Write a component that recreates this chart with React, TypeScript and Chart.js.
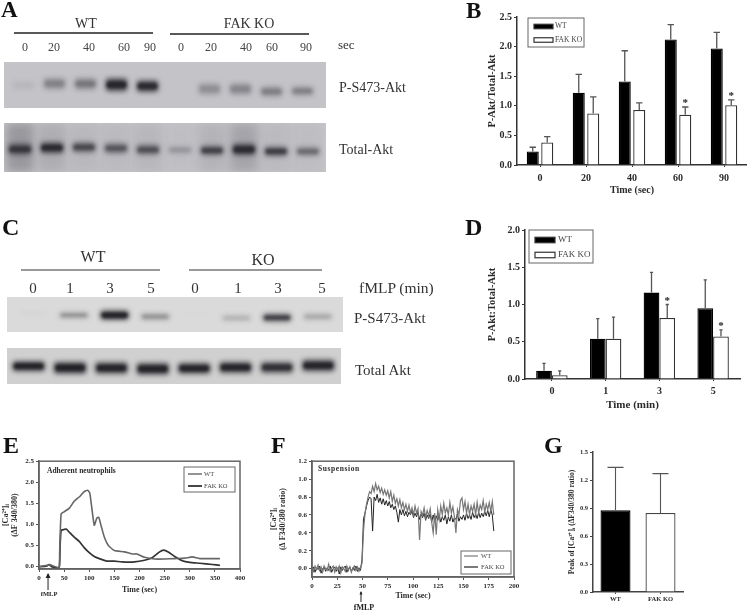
import React, { useEffect, useRef } from "react";
import { Chart, registerables } from "chart.js";

Chart.register(...registerables);

const SERIF = "'Liberation Serif', serif";

// ---------- Panel B ----------
const catB = ["0", "20", "40", "60", "90"];
const wtB = [0.23, 1.22, 1.41, 2.12, 1.97];
const wtBTop = [0.3, 1.53, 1.93, 2.37, 2.24];
const koB = [0.38, 0.87, 0.93, 0.85, 1.01];
const koBTop = [0.48, 1.15, 1.05, 0.98, 1.1];
const koBStar = [false, false, false, true, true];
const ticksB = [0, 0.5, 1, 1.5, 2, 2.5];

// ---------- Panel D ----------
const catD = ["0", "1", "3", "5"];
const wtD = [0.11, 0.54, 1.16, 0.95];
const wtDTop = [0.21, 0.81, 1.43, 1.33];
const koD = [0.05, 0.54, 0.82, 0.57];
const koDTop = [0.11, 0.83, 1.0, 0.66];
const koDStar = [false, false, true, true];
const ticksD = [0, 0.5, 1, 1.5, 2];

// ---------- Panel E ----------
const wtEx = [0, 10, 18, 22, 25, 40, 41, 44, 50, 60, 70, 80, 90, 97, 101, 105, 110, 115, 119, 124, 130, 138, 150, 170, 185, 195, 210, 230, 250, 270, 290, 305, 320, 360];
const wtEy = [0, 0.02, 0.03, 0.05, 0.03, -0.02, 0.3, 1.25, 1.3, 1.38, 1.55, 1.65, 1.78, 1.81, 1.75, 1.4, 0.98, 1.15, 1.17, 0.95, 0.7, 0.5, 0.38, 0.35, 0.3, 0.3, 0.22, 0.18, 0.18, 0.19, 0.2, 0.23, 0.19, 0.19];
const koEx = [0, 15, 20, 25, 40, 42, 44, 50, 54, 60, 70, 80, 90, 100, 110, 120, 135, 150, 165, 190, 210, 225, 240, 248, 258, 270, 285, 300, 320, 345, 360];
const koEy = [0, 0.01, 0.05, 0, -0.03, 0.5, 0.86, 0.88, 0.89, 0.82, 0.7, 0.6, 0.45, 0.33, 0.24, 0.19, 0.13, 0.13, 0.11, 0.11, 0.15, 0.21, 0.35, 0.39, 0.34, 0.24, 0.14, 0.1, 0.08, 0.05, 0.03];
const ticksEx = [0, 50, 100, 150, 200, 250, 300, 350, 400];
const ticksEy = [0, 0.5, 1, 1.5, 2, 2.5];

// ---------- Panel F (one reading every 1.5 s) ----------
const wtF = [
  0.01, -0.03, 0.03, -0.01, 0.04, -0.02, 0.02, -0.04, 0.03, 0,
  -0.02, 0.05, -0.03, 0.01, 0.03, -0.04, 0.02, -0.01, 0.03, -0.05,
  0.02, 0, -0.03, 0.03, -0.02, 0.02, -0.04, 0.01, 0.03, -0.02,
  0.02, -0.03, 0.01, 0.06, 0.42, 0.62, 0.72, 0.8, 0.86, 0.84,
  0.92, 0.86, 0.95, 0.88, 0.92, 0.85, 0.9, 0.83, 0.88, 0.82,
  0.87, 0.79, 0.86, 0.75, 0.82, 0.73, 0.78, 0.7, 0.77, 0.68,
  0.74, 0.66, 0.72, 0.64, 0.71, 0.62, 0.68, 0.6, 0.7, 0.62,
  0.67, 0.32, 0.64, 0.6, 0.68, 0.57, 0.65, 0.59, 0.67, 0.52,
  0.4, 0.62, 0.38, 0.66, 0.55, 0.7, 0.6, 0.73, 0.62, 0.68,
  0.6, 0.74, 0.62, 0.69, 0.58, 0.4, 0.66, 0.6, 0.76, 0.79,
  0.66, 0.75, 0.62, 0.72, 0.6, 0.7, 0.64, 0.72, 0.6, 0.74,
  0.62, 0.71, 0.66, 0.76, 0.63, 0.72, 0.66, 0.74, 0.64, 0.75,
  0.6,
];
const koF = [
  -0.02, 0.02, -0.04, 0.01, -0.01, 0.03, -0.05, 0, 0.02, -0.03,
  0.01, -0.02, 0.03, -0.04, 0, 0.02, -0.03, 0.01, -0.06, 0.02,
  -0.02, 0.01, 0.03, -0.04, 0, 0.02, -0.03, 0.01, -0.02, 0.03,
  -0.03, 0.01, -0.02, 0.1, 0.56, 0.62, 0.7, 0.76, 0.8, 0.78,
  0.42, 0.8, 0.76, 0.83, 0.74, 0.79, 0.72, 0.78, 0.71, 0.76,
  0.7, 0.75, 0.68, 0.72, 0.66, 0.7, 0.63, 0.52, 0.66, 0.6,
  0.66, 0.59, 0.64, 0.58, 0.63, 0.6, 0.65, 0.57, 0.62, 0.58,
  0.63, 0.55, 0.61, 0.57, 0.62, 0.54, 0.6, 0.56, 0.61, 0.52,
  0.6, 0.53, 0.59, 0.54, 0.6, 0.52, 0.58, 0.54, 0.6, 0.5,
  0.58, 0.53, 0.6, 0.52, 0.57, 0.55, 0.61, 0.53, 0.58, 0.55,
  0.6, 0.54, 0.62, 0.56, 0.6, 0.55, 0.63, 0.57, 0.61, 0.56,
  0.63, 0.57, 0.62, 0.58, 0.64, 0.59, 0.65, 0.58, 0.66, 0.6,
  0.42,
];
const ticksFx = [0, 25, 50, 75, 100, 125, 150, 175, 200];
const ticksFy = [0, 0.2, 0.4, 0.6, 0.8, 1, 1.2];

// ---------- Panel G ----------
const catG = ["WT", "FAK KO"];
const peakG = [0.875, 0.846];
const peakGTop = [1.335, 1.268];
const ticksG = [0, 0.3, 0.6, 0.9, 1.2, 1.5];

// ---------- Blots: band limits (percent of panel height) and strength ----------
const lanesA = ["WT 0", "WT 20", "WT 40", "WT 60", "WT 90", "KO 0", "KO 20", "KO 40", "KO 60", "KO 90"];
const lanesC = ["WT 0", "WT 1", "WT 3", "WT 5", "KO 0", "KO 1", "KO 3", "KO 5"];
const a1Top = [42, 35, 35, 35, 39, 50, 46, 46, 53, 53];
const a1Bot = [59, 59, 60, 64, 66, 52, 71, 71, 75, 73];
const a1Str = [0.1, 0.4, 0.46, 0.95, 0.9, 0, 0.33, 0.38, 0.42, 0.42];
const a2Top = [42, 39, 39, 41, 44, 48, 46, 42, 48, 49];
const a2Bot = [65, 62, 60, 62, 65, 62, 66, 66, 68, 67];
const a2Str = [0.8, 0.92, 0.7, 0.62, 0.66, 0.3, 0.74, 0.9, 0.78, 0.52];
const a2Smear = [0.28, 0.14, 0.07, 0.06, 0.08, 0.03, 0.1, 0.2, 0.06, 0.04];
const c1Top = [42, 44, 38, 47, 45, 52, 47, 47];
const c1Bot = [52, 60, 66, 65, 49, 68, 71, 65];
const c1Str = [0.04, 0.45, 1, 0.42, 0.02, 0.25, 0.8, 0.3];
const c2Top = [36, 38, 39, 41, 41, 38, 38, 32];
const c2Bot = [65, 72, 72, 75, 72, 70, 70, 65];
const c2Str = [1, 1, 0.97, 0.97, 0.97, 0.97, 0.88, 0.97];

const GREY = "#555";
const TXT = "#2a2a2a";

const afterFitW = (w: number) => (s: any) => { s.width = w; };
const afterFitH = (h: number) => (s: any) => { s.height = h; };
const setTicks = (arr: number[]) => (s: any) => { s.ticks = arr.map((value) => ({ value })); };

const panelPlugin = {
  id: "panelExtras",
  afterDatasetsDraw(chart: any) {
    const o = chart.options.plugins.panelExtras || {};
    const ctx = chart.ctx;
    const a = chart.chartArea;
    const yS = chart.scales.y;
    const xS = chart.scales.x;
    ctx.save();
    chart.data.datasets.forEach((ds: any, di: number) => {
      if (!ds.errTop) return;
      const meta = chart.getDatasetMeta(di);
      ds.errTop.forEach((top: number, i: number) => {
        const bar = meta.data[i];
        const yT = yS.getPixelForValue(top);
        ctx.strokeStyle = GREY;
        ctx.lineWidth = o.errW || 1.3;
        ctx.beginPath();
        ctx.moveTo(bar.x, bar.y);
        ctx.lineTo(bar.x, yT);
        ctx.moveTo(bar.x - o.cap, yT);
        ctx.lineTo(bar.x + o.cap, yT);
        ctx.stroke();
        if (ds.star && ds.star[i]) {
          ctx.fillStyle = "#222";
          ctx.font = `bold 11px ${SERIF}`;
          ctx.textAlign = "center";
          ctx.textBaseline = "alphabetic";
          ctx.fillText("*", bar.x, yT - 1);
        }
      });
    });
    if (o.frame) {
      ctx.strokeStyle = "#666";
      ctx.lineWidth = 1.5;
      ctx.strokeRect(a.left, a.top, a.right - a.left, a.bottom - a.top);
    }
    if (o.title) {
      ctx.fillStyle = TXT;
      ctx.font = `bold ${o.title.size}px ${SERIF}`;
      ctx.textAlign = "left";
      ctx.textBaseline = "middle";
      (ctx as any).letterSpacing = o.title.spacing || "0px";
      ctx.fillText(o.title.text, a.left + o.title.dx, a.top + o.title.dy);
      (ctx as any).letterSpacing = "0px";
    }
    if (o.arrow) {
      const ax = xS.getPixelForValue(o.arrow.at);
      ctx.strokeStyle = "#222";
      ctx.fillStyle = "#222";
      ctx.lineWidth = 1;
      const y0 = a.bottom + o.arrow.from;
      const y1 = a.bottom + o.arrow.to;
      ctx.beginPath();
      ctx.moveTo(ax, y1);
      ctx.lineTo(ax, y0);
      ctx.stroke();
      ctx.beginPath();
      ctx.moveTo(ax, y0 - 1);
      ctx.lineTo(ax - o.arrow.head, y0 + o.arrow.head * 1.6);
      ctx.lineTo(ax + o.arrow.head, y0 + o.arrow.head * 1.6);
      ctx.closePath();
      ctx.fill();
      ctx.font = `bold ${o.arrow.size}px ${SERIF}`;
      ctx.textAlign = "center";
      ctx.textBaseline = "alphabetic";
      ctx.fillText("fMLP", ax + o.arrow.labelDx, a.bottom + o.arrow.labelY);
    }
    if (o.legend) {
      const l = o.legend;
      ctx.strokeStyle = "#666";
      ctx.lineWidth = 1;
      ctx.strokeRect(l.x, l.y, l.w, l.h);
      chart.data.datasets.forEach((ds: any, i: number) => {
        const ry = l.y + l.rows[i];
        if (l.lines) {
          ctx.strokeStyle = ds.borderColor;
          ctx.lineWidth = l.lineW[i];
          ctx.beginPath();
          ctx.moveTo(l.x + l.sx, ry);
          ctx.lineTo(l.x + l.sx + l.sw, ry);
          ctx.stroke();
        } else {
          ctx.fillStyle = ds.backgroundColor;
          ctx.fillRect(l.x + l.sx, ry - l.sh / 2, l.sw, l.sh);
          ctx.strokeStyle = "#333";
          ctx.lineWidth = 1.2;
          ctx.strokeRect(l.x + l.sx, ry - l.sh / 2, l.sw, l.sh);
        }
        ctx.fillStyle = "#444";
        ctx.font = `${l.size}px ${SERIF}`;
        ctx.textAlign = "left";
        ctx.textBaseline = "middle";
        ctx.fillText(ds.label, l.x + l.tx, ry);
      });
    }
    ctx.restore();
  },
};

const blotPlugin = {
  id: "blot",
  beforeDraw(chart: any) {
    const o = chart.options.plugins.blot;
    const ctx = chart.ctx;
    ctx.save();
    ctx.fillStyle = o.bg;
    ctx.fillRect(0, 0, chart.width, chart.height);
    ctx.restore();
  },
  beforeDatasetDraw(chart: any, args: any) {
    const ds = chart.data.datasets[args.index];
    chart.ctx.save();
    chart.ctx.filter = `blur(${ds.blur}px)`;
  },
  afterDatasetDraw(chart: any) {
    chart.ctx.restore();
  },
};

const axisFont = (size: number) => ({ family: SERIF, size, weight: "bold" as const });

function scales(o: any) {
  const bc = o.axisColor || "#333";
  return {
    x: {
      type: o.xType,
      min: o.xMin,
      max: o.xMax,
      offset: o.xType === "category",
      afterFit: afterFitH(o.xH),
      afterBuildTicks: o.xTicks ? setTicks(o.xTicks) : undefined,
      border: { display: true, color: bc, width: o.bw || 1.5 },
      grid: { display: true, drawOnChartArea: false, drawTicks: true, tickLength: o.xTL ?? 3, offset: false, color: bc, lineWidth: 1 },
      ticks: { font: axisFont(o.tick), color: TXT, maxRotation: 0, autoSkip: false, padding: o.xPad ?? 2 },
      title: o.xTitle
        ? { display: true, text: o.xTitle, font: axisFont(o.titleSize), color: TXT, padding: { top: 0, bottom: o.xTitleB } }
        : { display: false },
    },
    y: {
      type: "linear",
      min: o.yMin,
      max: o.yMax,
      afterFit: afterFitW(o.yW),
      afterBuildTicks: setTicks(o.yTicks),
      border: { display: true, color: bc, width: o.bw || 1.5 },
      grid: { display: true, drawOnChartArea: false, drawTicks: true, tickLength: 3, color: bc, lineWidth: 1 },
      ticks: { font: axisFont(o.tick), color: TXT, padding: 2, callback: (v: any) => Number(v).toFixed(1) },
      title: {
        display: true,
        text: o.yTitle,
        font: axisFont(o.yTitleSize || o.titleSize),
        color: TXT,
        padding: 0,
      },
    },
  };
}

type Spec = { left: number; top: number; width: number; height: number; config: (padT: number) => any };

const barDs = (label: string, data: number[], fill: string, errTop: number[], star?: boolean[], extra?: any) => ({
  label,
  data,
  backgroundColor: fill,
  borderColor: fill === "#000" ? "#000" : "#333",
  borderWidth: 1.3,
  errTop,
  star,
  barPercentage: extra?.bar ?? 1,
  categoryPercentage: extra?.cat ?? 1,
});

const commonOpts = {
  responsive: false,
  animation: false,
  devicePixelRatio: 1,
};

const noLib = { legend: { display: false }, tooltip: { enabled: false } };

const specs: Spec[] = [
  // B
  {
    left: 486, top: 6, width: 261, height: 197,
    config: () => ({
      type: "bar",
      data: {
        labels: catB,
        datasets: [
          barDs("WT", wtB, "#000", wtBTop, undefined, { bar: 0.83, cat: 0.63 }),
          barDs("FAK KO", koB, "#fff", koBTop, koBStar, { bar: 0.83, cat: 0.63 }),
        ],
      },
      options: {
        ...commonOpts,
        layout: { padding: { top: 11, right: 0, bottom: 0, left: 0 } },
        scales: scales({
          xType: "category", xH: 38, yW: 31, yMin: 0, yMax: 2.5, yTicks: ticksB, tick: 10,
          xTitle: "Time (sec)", xTitleB: 7, titleSize: 10, yTitle: "P-Akt/Total-Akt", yTitleSize: 10.5,
          xTL: 2, xPad: 5,
        }),
        plugins: {
          ...noLib,
          panelExtras: {
            cap: 3.2,
            legend: { x: 42, y: 12, w: 56, h: 29, rows: [8.5, 22], sx: 6, sw: 19, sh: 4.5, tx: 27, size: 7.5 },
          },
        },
      },
      plugins: [panelPlugin],
    }),
  },
  // D
  {
    left: 486, top: 222, width: 261, height: 190,
    config: () => ({
      type: "bar",
      data: {
        labels: catD,
        datasets: [
          barDs("WT", wtD, "#000", wtDTop, undefined, { cat: 0.585 }),
          barDs("FAK KO", koD, "#fff", koDTop, koDStar, { cat: 0.585 }),
        ],
      },
      options: {
        ...commonOpts,
        layout: { padding: { top: 8, right: 7, bottom: 0, left: 0 } },
        scales: scales({
          xType: "category", xH: 33, yW: 39, yMin: 0, yMax: 2, yTicks: ticksD, tick: 10,
          xTitle: "Time (min)", xTitleB: 0, titleSize: 11, yTitle: "P-Akt:Total-Akt", yTitleSize: 10.5,
          xTL: 2, xPad: 4,
        }),
        plugins: {
          ...noLib,
          panelExtras: {
            cap: 1.6,
            legend: { x: 43, y: 8, w: 64, h: 33, rows: [10, 25], sx: 6, sw: 20, sh: 5.5, tx: 29, size: 9 },
          },
        },
      },
      plugins: [panelPlugin],
    }),
  },
  // E
  {
    left: 1, top: 455, width: 250, height: 150,
    config: () => ({
      type: "line",
      data: {
        datasets: [
          { label: "WT", data: wtEx.map((x, i) => ({ x, y: wtEy[i] })), borderColor: "#666", borderWidth: 1.6, pointRadius: 0, tension: 0.15 },
          { label: "FAK KO", data: koEx.map((x, i) => ({ x, y: koEy[i] })), borderColor: "#333", borderWidth: 1.7, pointRadius: 0, tension: 0.15 },
        ],
      },
      options: {
        ...commonOpts,
        layout: { padding: { top: 6, right: 11, bottom: 0, left: 0 } },
        scales: scales({
          xType: "linear", xMin: 0, xMax: 400, xTicks: ticksEx, xH: 36, yW: 38, yMin: -0.057, yMax: 2.5, yTicks: ticksEy, tick: 7,
          xTitle: "Time (sec)", xTitleB: 10, titleSize: 8, yTitle: ["[Ca²⁺]ᵢ", "(ΔF 340/380)"], yTitleSize: 8, axisColor: "#555",
        }),
        plugins: {
          ...noLib,
          panelExtras: {
            cap: 0,
            frame: true,
            title: { text: "Adherent neutrophils", size: 7.5, dx: 8, dy: 10 },
            arrow: { at: 18, from: 5, to: 21, head: 2.5, size: 6.5, labelDx: 1, labelY: 27 },
            legend: { x: 183, y: 12, w: 51, h: 25, rows: [7, 19], lines: true, lineW: [1.4, 1.8], sx: 4, sw: 14, tx: 20, size: 6.5 },
          },
        },
      },
      plugins: [panelPlugin],
    }),
  },
  // F
  {
    left: 269, top: 455, width: 261, height: 156,
    config: () => ({
      type: "line",
      data: {
        datasets: [
          { label: "WT", data: wtF.map((y, i) => ({ x: i * 1.5, y })), borderColor: "#777", borderWidth: 1.2, pointRadius: 0 },
          { label: "FAK KO", data: koF.map((y, i) => ({ x: i * 1.5, y })), borderColor: "#222", borderWidth: 1, pointRadius: 0 },
        ],
      },
      options: {
        ...commonOpts,
        layout: { padding: { top: 6, right: 16, bottom: 0, left: 0 } },
        scales: scales({
          xType: "linear", xMin: 0, xMax: 200, xTicks: ticksFx, xH: 34, yW: 43, yMin: -0.093, yMax: 1.2, yTicks: ticksFy, tick: 7,
          xTitle: "Time (sec)", xTitleB: 10, titleSize: 8, yTitle: ["[Ca²⁺]ᵢ", "(Δ F340/380 ratio)"], yTitleSize: 8, axisColor: "#555",
        }),
        plugins: {
          ...noLib,
          panelExtras: {
            cap: 0,
            frame: true,
            title: { text: "Suspension", size: 7.5, dx: 6, dy: 8, spacing: "0.6px" },
            arrow: { at: 48.5, from: 15, to: 25, head: 1.5, size: 8, labelDx: 3, labelY: 33 },
            legend: { x: 192, y: 96, w: 50, h: 23, rows: [5, 16], lines: true, lineW: [1.2, 1.2], sx: 3, sw: 14, tx: 20, size: 6.5 },
          },
        },
      },
      plugins: [panelPlugin],
    }),
  },
  // G
  {
    left: 568, top: 445, width: 179, height: 162,
    config: () => ({
      type: "bar",
      data: {
        labels: catG,
        datasets: [
          {
            label: "Peak",
            data: peakG,
            backgroundColor: ["#000", "#fff"],
            borderColor: ["#000", "#444"],
            borderWidth: 1.3,
            errTop: peakGTop,
            barPercentage: 0.667,
            categoryPercentage: 1,
          },
        ],
      },
      options: {
        ...commonOpts,
        layout: { padding: { top: 7, right: 64, bottom: 0, left: 0 } },
        scales: scales({
          xType: "category", xH: 15, yW: 25, yMin: 0, yMax: 1.5, yTicks: ticksG, tick: 6.5,
          titleSize: 7, yTitle: "Peak of [Ca²⁺]ᵢ (ΔF340/380 ratio)", yTitleSize: 7.5, axisColor: "#444", xTL: 2, xPad: 1,
        }),
        plugins: { ...noLib, panelExtras: { cap: 8, errW: 1.1 } },
      },
      plugins: [panelPlugin],
    }),
  },
];

function blotSpec(
  left: number, top: number, width: number, height: number,
  lanes: string[], bandTop: number[], bandBot: number[], strength: number[],
  bg: string, padL: number, padR: number, barPct: number, smear?: number[]
): Spec {
  const mid = (i: number) => (bandTop[i] + bandBot[i]) / 2;
  const half = (i: number) => (bandBot[i] - bandTop[i]) / 2;
  const datasets: any[] = [];
  if (smear) {
    datasets.push({
      label: "smear",
      data: lanes.map(() => [0, 100]),
      backgroundColor: smear.map((s) => `rgba(40,40,48,${s})`),
      barPercentage: 0.85, categoryPercentage: 1, grouped: false, blur: 5,
    });
  }
  datasets.push({
    label: "band",
    data: lanes.map((_, i) => [bandTop[i], bandBot[i]]),
    backgroundColor: strength.map((s) => `rgba(30,30,36,${s * 0.72})`),
    barPercentage: barPct, categoryPercentage: 1, grouped: false, blur: 2.4, borderRadius: 4, borderSkipped: false,
  });
  datasets.push({
    label: "core",
    data: lanes.map((_, i) => [mid(i) - half(i) * 0.5, mid(i) + half(i) * 0.5]),
    backgroundColor: strength.map((s) => `rgba(10,10,14,${s * s * 0.85})`),
    barPercentage: barPct * 0.88, categoryPercentage: 1, grouped: false, blur: 1.5, borderRadius: 3, borderSkipped: false,
  });
  return {
    left, top, width, height,
    config: () => ({
      type: "bar",
      data: { labels: lanes, datasets },
      options: {
        ...commonOpts,
        layout: { padding: { top: 0, right: padR, bottom: 0, left: padL } },
        scales: {
          x: { display: false, type: "category" },
          y: { display: false, min: 0, max: 100, reverse: true },
        },
        plugins: { ...noLib, blot: { bg } },
      },
      plugins: [blotPlugin],
    }),
  };
}

const blots: Spec[] = [
  blotSpec(4, 62, 322, 46, lanesA, a1Top, a1Bot, a1Str, "#c4c4c8", 4, 8, 0.72),
  blotSpec(4, 123, 322, 49, lanesA, a2Top, a2Bot, a2Str, "#c4c4c8", 0, 2, 0.74, a2Smear),
  blotSpec(7, 297, 336, 35, lanesC, c1Top, c1Bot, c1Str, "#dadada", 6, 5, 0.72),
  blotSpec(7, 348, 334, 36, lanesC, c2Top, c2Bot, c2Str, "#d0d0d0", 1, 2, 0.8),
];

const laneLabelsA = ["0", "20", "40", "60", "90", "0", "20", "40", "60", "90"];
const laneXA = [25, 54, 89, 124, 150, 181, 211, 246, 272, 306];
const laneLabelsC = ["0", "1", "3", "5", "0", "1", "3", "5"];
const laneXC = [33, 70, 110, 151, 195, 238, 278, 322];

function Plot({ spec }: { spec: Spec }) {
  const ref = useRef<HTMLCanvasElement>(null);
  useEffect(() => {
    const chart = new Chart(ref.current as any, spec.config(0));
    return () => chart.destroy();
  }, []);
  return (
    <canvas
      ref={ref}
      width={spec.width}
      height={spec.height}
      style={{ position: "absolute", left: spec.left, top: spec.top, width: spec.width, height: spec.height, filter: "blur(0.55px)" }}
    />
  );
}

const T = (p: any) => <text fontFamily={SERIF} fill="#333" {...p} />;

export default function App() {
  useEffect(() => {
    document.body.style.margin = "0";
    document.body.style.background = "#fff";
  }, []);
  return (
    <div style={{ position: "absolute", left: 0, top: 0, width: 747, height: 611, overflow: "hidden", background: "#fff" }}>
      {blots.map((s, i) => <Plot key={"b" + i} spec={s} />)}
      {specs.map((s, i) => <Plot key={"s" + i} spec={s} />)}
      <svg width={747} height={611} style={{ position: "absolute", left: 0, top: 0, pointerEvents: "none", filter: "blur(0.25px)" }}>
        <T x={1} y={17} fontSize={23} fontWeight="bold" fill="#111">A</T>
        <T x={466} y={18} fontSize={23} fontWeight="bold" fill="#111">B</T>
        <T x={2} y={235} fontSize={24} fontWeight="bold" fill="#111">C</T>
        <T x={465} y={235} fontSize={24} fontWeight="bold" fill="#111">D</T>
        <T x={3} y={453} fontSize={24} fontWeight="bold" fill="#111">E</T>
        <T x={271} y={453} fontSize={24} fontWeight="bold" fill="#111">F</T>
        <T x={544} y={453} fontSize={24} fontWeight="bold" fill="#111">G</T>

        <T x={86} y={28} fontSize={14} textAnchor="middle">WT</T>
        <T x={249} y={28} fontSize={14} textAnchor="middle">FAK KO</T>
        <line x1={14} x2={153} y1={33} y2={33} stroke="#222" strokeWidth={1.6} />
        <line x1={170} x2={309} y1={34} y2={34} stroke="#222" strokeWidth={1.6} />
        {laneLabelsA.map((l, i) => <T key={i} x={laneXA[i]} y={51} fontSize={12} textAnchor="middle" fill="#444">{l}</T>)}
        <T x={338} y={49} fontSize={13}>sec</T>
        <T x={339} y={92} fontSize={14}>P-S473-Akt</T>
        <T x={339} y={154} fontSize={14}>Total-Akt</T>

        <T x={93} y={262} fontSize={16} textAnchor="middle">WT</T>
        <T x={263} y={265} fontSize={16} textAnchor="middle">KO</T>
        <line x1={21} x2={160} y1={270} y2={270} stroke="#333" strokeWidth={1} />
        <line x1={189} x2={322} y1={270} y2={270} stroke="#333" strokeWidth={1} />
        {laneLabelsC.map((l, i) => <T key={i} x={laneXC[i]} y={293} fontSize={15} textAnchor="middle">{l}</T>)}
        <T x={359} y={293} fontSize={15.5}>fMLP (min)</T>
        <T x={354} y={323} fontSize={15}>P-S473-Akt</T>
        <T x={355} y={375} fontSize={15}>Total Akt</T>
      </svg>
    </div>
  );
}
